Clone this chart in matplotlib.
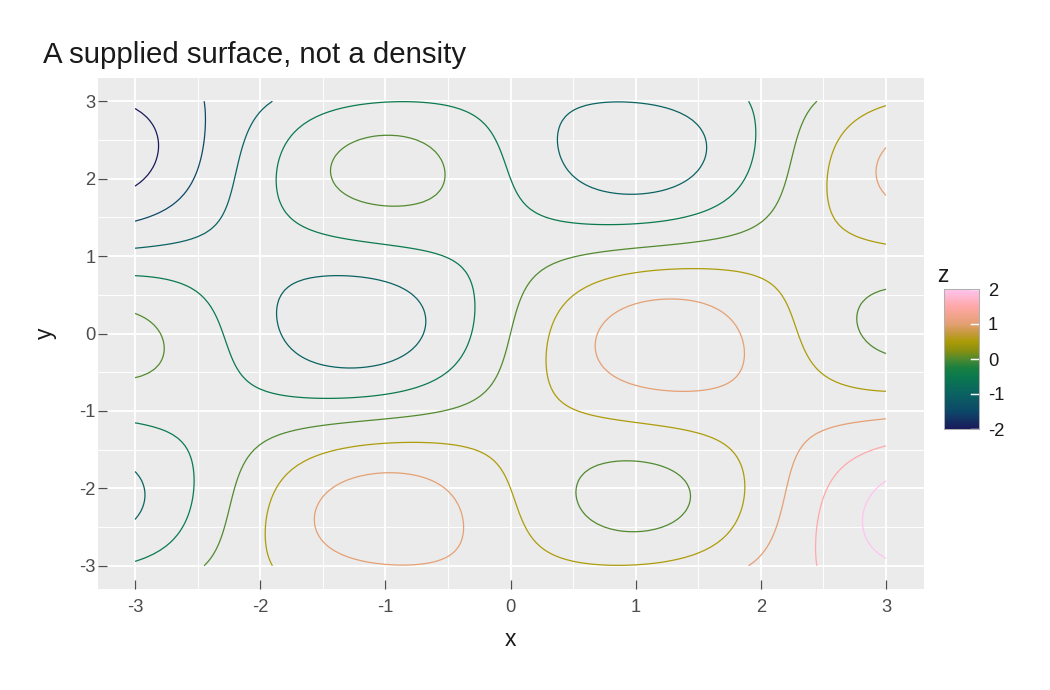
import numpy as np
import matplotlib

matplotlib.use("Agg")
import matplotlib.pyplot as plt
from matplotlib.colors import LinearSegmentedColormap, Normalize

plt.rcParams["font.family"] = ["Liberation Sans", "DejaVu Sans"]
plt.rcParams["axes.unicode_minus"] = False

# supplied surface: z = sin(k x) cos(k y) + tilt * (x - y)
x_vals = np.linspace(-3, 3, 121)
y_vals = np.linspace(-3, 3, 121)
wave_k = 1.4
tilt = 0.25
levels = [-2.0, -1.5, -1.0, -0.5, 0.0, 0.5, 1.0, 1.5, 2.0]
x_ticks = [-3, -2, -1, 0, 1, 2, 3]
y_ticks = [-3, -2, -1, 0, 1, 2, 3]
legend_ticks = [-2, -1, 0, 1, 2]

X, Y = np.meshgrid(x_vals, y_vals)
Z = np.sin(wave_k * X) * np.cos(wave_k * Y) + tilt * (X - Y)

# colour scale sampled from the legend bar (z from -2 to 2)
cmap = LinearSegmentedColormap.from_list(
    "surface",
    [
        (0.0000, "#1a1a5c"),
        (0.1250, "#0d4868"),
        (0.2500, "#0b6262"),
        (0.3750, "#0a7a4e"),
        (0.4375, "#1a8040"),
        (0.5000, "#4f8a30"),
        (0.5625, "#8a9010"),
        (0.6250, "#ac9c08"),
        (0.6875, "#c89a40"),
        (0.7500, "#e4a072"),
        (0.8750, "#ffa8a8"),
        (1.0000, "#ffc4f0"),
    ],
)
norm = Normalize(-2, 2)

W, H = 1050, 690
fig = plt.figure(figsize=(W / 150, H / 150), dpi=150)
ax = fig.add_axes([97.5 / W, 1 - 589 / H, (923.5 - 97.5) / W, (589 - 78) / H])
ax.set_facecolor("#ebebeb")
for s in ax.spines.values():
    s.set_visible(False)

ax.set_xticks(x_ticks)
ax.set_yticks(y_ticks)
ax.set_xticks(np.arange(-2.5, 3, 1.0), minor=True)
ax.set_yticks(np.arange(-2.5, 3, 1.0), minor=True)
ax.grid(which="major", color="white", linewidth=0.9)
ax.grid(which="minor", color="white", linewidth=0.45)
ax.set_axisbelow(True)
ax.tick_params(which="major", direction="in", length=4.3, width=0.6, color="#4d4d4d",
               labelsize=8.8, labelcolor="#4d4d4d")
ax.tick_params(axis="x", which="major", pad=4.9)
ax.tick_params(axis="y", which="major", pad=0.9)
ax.tick_params(which="minor", length=0)

ax.contour(X, Y, Z, levels=levels, cmap=cmap, norm=norm, linewidths=0.6)
ax.set_xlim(-3.3, 3.3)
ax.set_ylim(-3.3, 3.3)

fig.text(510 / W, 1 - 646.5 / H, "x", fontsize=11, ha="center", va="baseline", color="#1a1a1a")
fig.text(45.5 / W, 1 - 333 / H, "y", fontsize=11, ha="center", va="center",
         rotation=90, color="#1a1a1a")
fig.text(43 / W, 1 - 63.3 / H, "A supplied surface, not a density", fontsize=14.1,
         ha="left", va="baseline", color="#1a1a1a")

# colour bar legend
cax = fig.add_axes([944 / W, 1 - 429 / H, 35 / W, 140 / H])
grad = np.linspace(-2, 2, 256)[:, None]
cax.imshow(grad, aspect="auto", cmap=cmap, norm=norm, origin="lower", extent=[0, 1, -2, 2])
cax.set_xlim(0, 1)
cax.set_ylim(-2, 2)
cax.set_xticks([])
cax.set_yticks(legend_ticks)
cax.yaxis.tick_right()
cax.tick_params(length=0, labelsize=8.8, labelcolor="#1a1a1a", pad=4.3)
for t in legend_ticks:
    cax.plot([0.78, 1.0], [t, t], color="white", linewidth=0.7)
for s in cax.spines.values():
    s.set_color("#b0b0b0")
    s.set_linewidth(0.5)
fig.text(937 / W, 1 - 282 / H, "z", fontsize=11, ha="left", va="baseline", color="#1a1a1a")

fig.savefig("out.png", dpi=150)
